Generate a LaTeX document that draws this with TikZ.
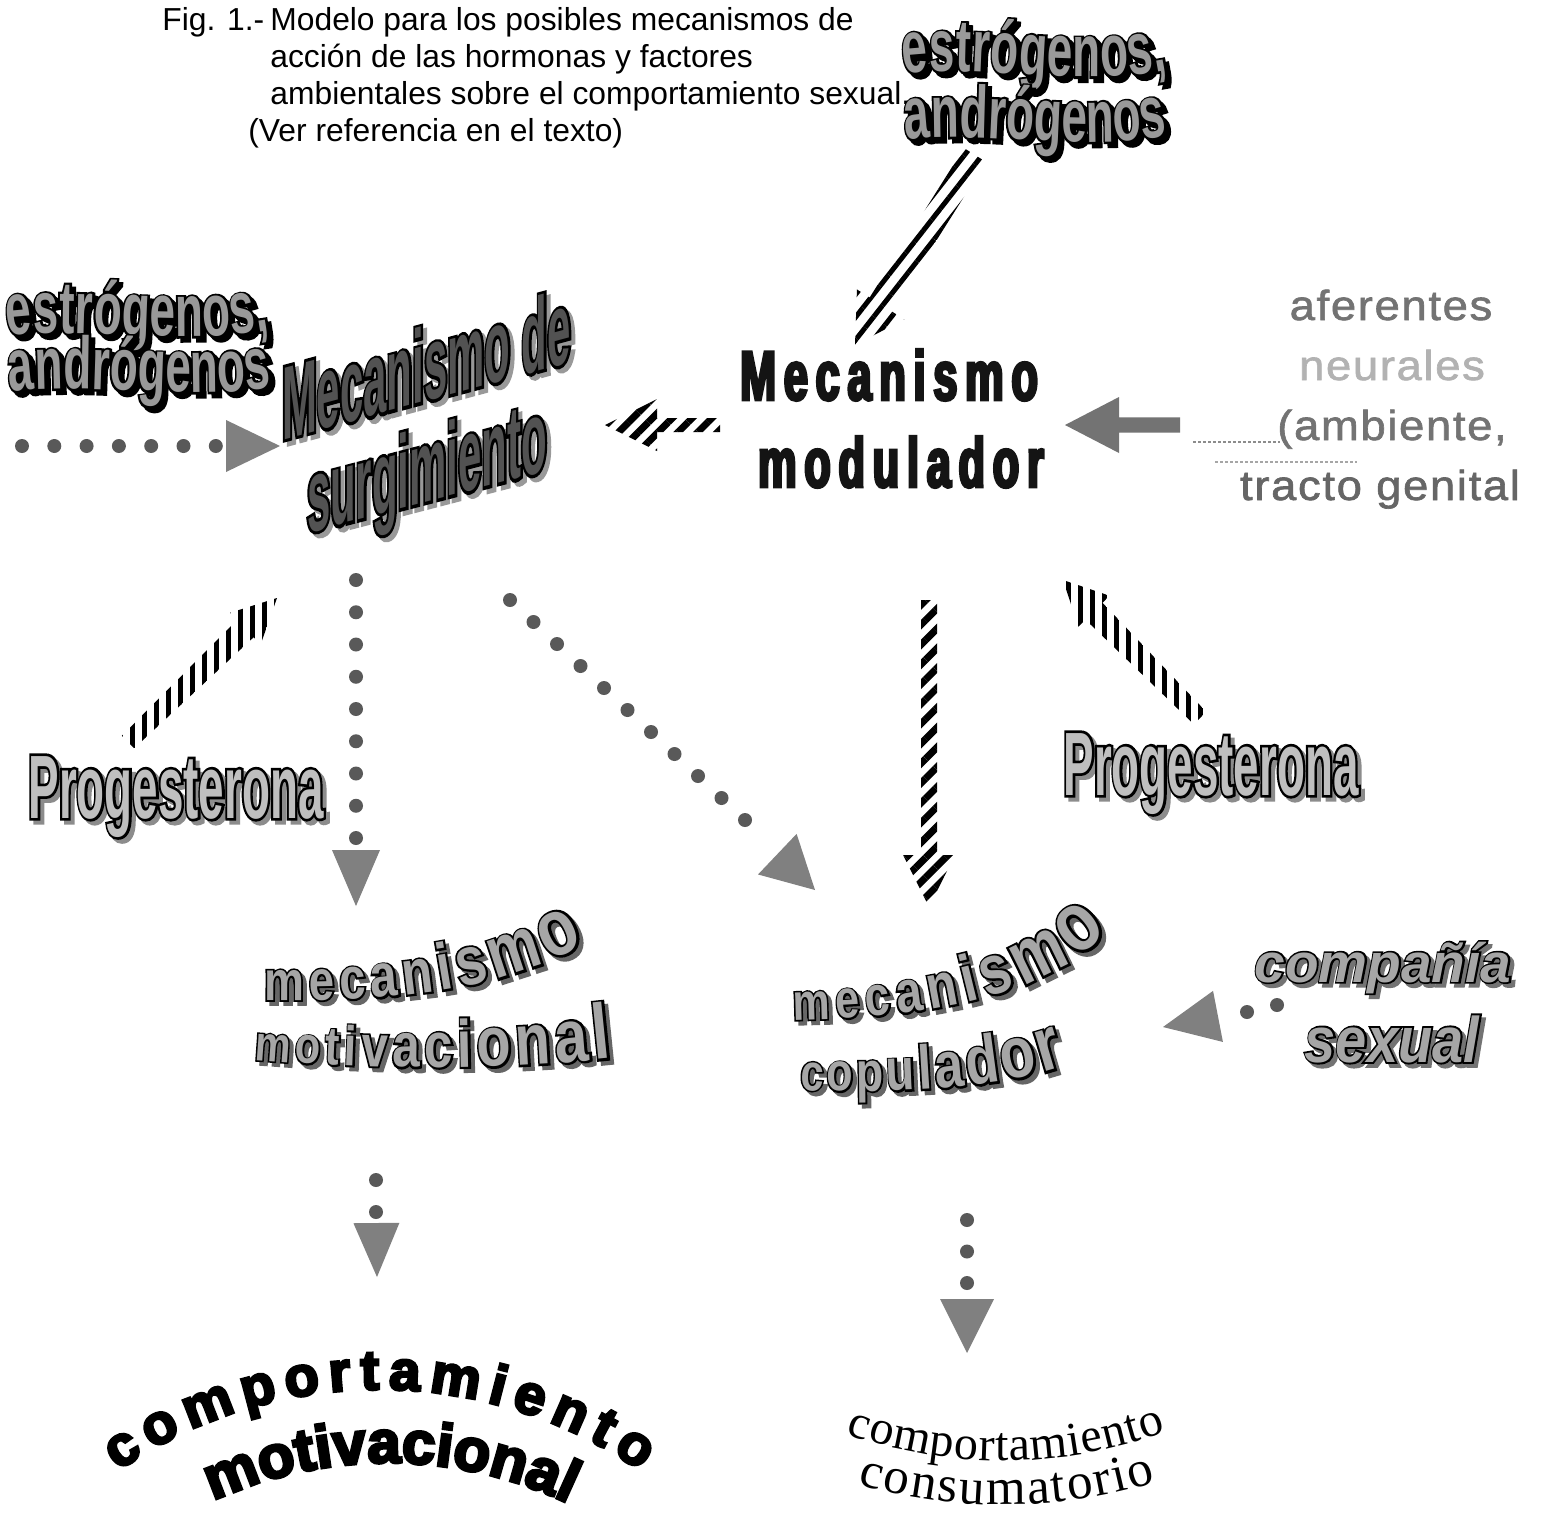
\documentclass[tikz,border=0pt]{standalone}
\usepackage{fontspec}
\setmainfont{Liberation Sans}
\usetikzlibrary{calc,patterns.meta,decorations.text}

% faces for the display lettering: a fill face and a stroked (outline) face
\newfontfamily\condfill[FakeStretch=0.62]{Liberation Sans Bold}
\newfontfamily\condline[FakeStretch=0.62,FakeBold=6]{Liberation Sans Bold}
\newfontfamily\roundfill[FakeStretch=0.8]{Liberation Sans Bold}
\newfontfamily\roundline[FakeStretch=0.8,FakeBold=6]{Liberation Sans Bold}
\newfontfamily\italfill{Liberation Sans Bold Italic}
\newfontfamily\italline[FakeBold=6]{Liberation Sans Bold Italic}
\newfontfamily\modfont[FakeStretch=0.62,LetterSpace=11,FakeBold=4]{Liberation Sans Bold}
\newfontfamily\heavyfont[FakeBold=5]{Liberation Sans Bold}
\newfontfamily\afffont[FakeStretch=1.08,LetterSpace=4,FakeBold=1.5]{Liberation Sans}
\newfontfamily\bookfont{Liberation Serif}

% size switch used inside path lettering; the family is chosen per pass
\newcommand\wafam{\roundfill}
\newcommand\G[1]{\wafam\fontsize{#1}{#1}\selectfont}

% outlined lettering with a drop shadow, as a node
% #1 name, #2 position, #3 node options, #4 shadow options, #5 outline face, #6 fill face, #7 fill colour, #8 text
\newcommand\waNode[8]{%
  \node[shift={(4,4)},#3,#4] (#1-sh) at #2 {#5#8};
  \node[#3,text=black] (#1-ol) at #2 {#5#8};
  \node[#3,text=#7] (#1) at #2 {#6#8};
}
% outlined lettering with a drop shadow, fitted along a path
% #1 shadow colour, #2 outline family, #3 fill family, #4 fill colour, #5 text spec, #6 path
\newcommand\waPath[6]{%
  \renewcommand\wafam{#2}%
  \path[shift={(4,4)},decorate,decoration={text along path,text align=fit to path,text color=#1,text={#5}}] #6;
  \path[decorate,decoration={text along path,text align=fit to path,text color=black,text={#5}}] #6;
  \renewcommand\wafam{#3}%
  \path[decorate,decoration={text along path,text align=fit to path,text color=#4,text={#5}}] #6;
}
% block arrow: #1 name, #2 style, #3 tail, #4 tip, #5 tail half width, #6 shaft half width, #7 head half width, #8 head length
\newcommand\blockarrow[8]{%
  \coordinate (#1-b) at ($(#4)!#8!(#3)$);
  \path[#2] (#4) -- ($(#1-b)!#7!90:(#4)$) -- ($(#1-b)!#6!90:(#4)$) -- ($(#3)!#5!90:(#4)$)
    -- ($(#3)!#5!-90:(#4)$) -- ($(#1-b)!#6!-90:(#4)$) -- ($(#1-b)!#7!-90:(#4)$) -- cycle;
}
% triangular head: #1 name, #2 point behind, #3 tip, #4 half width, #5 length
\newcommand\trihead[5]{%
  \coordinate (#1-b) at ($(#3)!#5!(#2)$);
  \fill[headgray] (#3) -- ($(#1-b)!#4!90:(#3)$) -- ($(#1-b)!#4!-90:(#3)$) -- cycle;
}

\begin{document}
\begin{tikzpicture}[x=0.5pt,y=-0.5pt,
  wa/.style={inner sep=0pt,outer sep=0pt},
  captext/.style={inner sep=0pt,anchor=base west,font=\fontsize{15.9}{19}\selectfont},
  headgray/.style={fill=black!50},
  dotgray/.style={fill=black!65},
  stripeslant/.style={pattern={Lines[angle=45,distance=7pt,line width=3.5pt]}},
  stripesteep/.style={pattern={Lines[angle=52,distance=7pt,line width=2.5pt]}},
  stripevert/.style={pattern={Lines[angle=90,distance=6pt,line width=2.5pt]}}]

\fill[white] (0,0) rectangle (1542,1526);
\path[use as bounding box] (0,0) rectangle (1542,1526);

% caption
\node[captext] (fig) at (162,30) {Fig. 1.-};
\node[captext] (cap1) at (270,30) {Modelo para los posibles mecanismos de};
\node[captext] (cap2) at (270,67) {acción de las hormonas y factores};
\node[captext] (cap3) at (270,104) {ambientales sobre el comportamiento sexual.};
\node[captext] (cap4) at (248,141) {(Ver referencia en el texto)};

% hormones, upper right and left
\waPath{black}{\condline}{\condfill}{black!40}{|\G{37}|estrógenos,}{(904,74) .. controls (980,64) and (1080,88) .. (1168,70)}
\waPath{black}{\condline}{\condfill}{black!40}{|\G{37}|andrógenos}{(906,140) .. controls (980,130) and (1080,152) .. (1168,136)}
\waPath{black}{\condline}{\condfill}{black!40}{|\G{37}|estrógenos,}{(8,336) .. controls (80,326) and (180,346) .. (270,330)}
\waPath{black}{\condline}{\condfill}{black!40}{|\G{37}|andrógenos}{(10,392) .. controls (80,382) and (180,400) .. (268,388)}

% Mecanismo de surgimiento
\waNode{surg1}{(282,440)}{wa,anchor=base west,yslant=0.27,xscale=0.65}{text=black!40}{\condline\fontsize{52}{52}\selectfont}{\condfill\fontsize{52}{52}\selectfont}{black!68}{Mecanismo de}
\waNode{surg2}{(307,533)}{wa,anchor=base west,yslant=0.26,xscale=0.65}{text=black!40}{\condline\fontsize{52}{52}\selectfont}{\condfill\fontsize{52}{52}\selectfont}{black!68}{surgimiento}

% Mecanismo modulador
\node[wa,anchor=base west,text=black!92,font=\modfont\fontsize{35}{35}\selectfont] (mod1) at (740,400) {Mecanismo};
\node[wa,anchor=base west,text=black!92,font=\modfont\fontsize{35}{35}\selectfont] (mod2) at (758,487) {modulador};

% aferentes neurales
\node[wa,anchor=base,text=black!55,font=\afffont\fontsize{21}{21}\selectfont] (af1) at (1391,320) {aferentes};
\node[wa,anchor=base,text=black!30,font=\afffont\fontsize{21}{21}\selectfont] (af2) at (1392,380) {neurales};
\node[wa,anchor=base,text=black!55,font=\afffont\fontsize{21}{21}\selectfont] (af3) at (1392,440) {(ambiente,};
\node[wa,anchor=base,text=black!60,font=\afffont\fontsize{21}{21}\selectfont] (af4) at (1380,500) {tracto genital};
\draw[black!45,line width=1,dash pattern=on 1.5pt off 1pt] (1193,442) -- (1280,442);
\draw[black!35,line width=1,dash pattern=on 1.5pt off 1pt] (1215,462) -- (1357,462);

% Progesterona
\waNode{progL}{(176,818)}{wa,anchor=base,xscale=0.82}{text=black!45}{\condline\fontsize{45}{45}\selectfont}{\condfill\fontsize{45}{45}\selectfont}{black!25}{Progesterona}
\waNode{progR}{(1211,795)}{wa,anchor=base,xscale=0.82}{text=black!45}{\condline\fontsize{45}{45}\selectfont}{\condfill\fontsize{45}{45}\selectfont}{black!25}{Progesterona}

% mecanismo motivacional / copulador, lettering growing towards the right
\waPath{black!60}{\roundline}{\roundfill}{black!35}%
  {|\G{28}|m|\G{28.5}|e|\G{29.5}|c|\G{30.5}|a|\G{31.5}|n|\G{33}|i|\G{34.5}|s|\G{36.5}|m|\G{40}|o}%
  {(264,1000) .. controls (400,1002) and (500,990) .. (585,944)}
\waPath{black!60}{\roundline}{\roundfill}{black!35}%
  {|\G{25}|m|\G{26}|o|\G{27}|t|\G{28}|i|\G{29.5}|v|\G{31}|a|\G{32}|c|\G{33.5}|i|\G{35}|o|\G{36}|n|\G{37.5}|a|\G{39}|l}%
  {(254,1060) .. controls (380,1070) and (500,1070) .. (612,1058)}
\waPath{black!60}{\roundline}{\roundfill}{black!35}%
  {|\G{26}|m|\G{27}|e|\G{28}|c|\G{29.5}|a|\G{31}|n|\G{33}|i|\G{35}|s|\G{38}|m|\G{42}|o}%
  {(793,1020) .. controls (920,1018) and (1040,1000) .. (1108,932)}
\waPath{black!60}{\roundline}{\roundfill}{black!35}%
  {|\G{26}|c|\G{27}|o|\G{28}|p|\G{29.5}|u|\G{31}|l|\G{32.5}|a|\G{34}|d|\G{36}|o|\G{38}|r}%
  {(800,1090) .. controls (900,1094) and (1000,1088) .. (1065,1066)}

% compañía sexual
\waNode{comp1}{(1383,982)}{wa,anchor=base}{text=black!55}{\italline\fontsize{27.5}{27.5}\selectfont}{\italfill\fontsize{27.5}{27.5}\selectfont}{black!35}{compañía}
\waNode{comp2}{(1392,1062)}{wa,anchor=base,yscale=1.15}{text=black!55}{\italline\fontsize{28}{28}\selectfont}{\italfill\fontsize{28}{28}\selectfont}{black!35}{sexual}

% behaviours
\path[decorate,decoration={text along path,text align=fit to path,text={|\heavyfont\fontsize{28}{28}\selectfont|comportamiento}}]
  (118,1471) arc[start angle=235.3,end angle=304.7,radius=459];
\path[decorate,decoration={text along path,text align=fit to path,text={|\heavyfont\fontsize{30}{30}\selectfont|motivacional}}]
  (213,1501) arc[start angle=245.3,end angle=294.7,radius=419];
\path[decorate,decoration={text along path,text align=fit to path,text={|\bookfont\fontsize{24}{24}\selectfont|comportamiento}}]
  (846,1434) .. controls (950,1470) and (1060,1470) .. (1166,1432);
\path[decorate,decoration={text along path,text align=fit to path,text={|\bookfont\fontsize{25.5}{25.5}\selectfont|consumatorio}}]
  (858,1484) .. controls (950,1512) and (1060,1512) .. (1156,1482);

% connector end points
\coordinate (hTR) at (975,155);  \coordinate (modTop) at (855,345);
\coordinate (modL) at (720,425); \coordinate (surgR) at (605,425);
\coordinate (afL) at (1180,425); \coordinate (modR) at (1065,425);
\coordinate (modB) at (929,600); \coordinate (copT) at (929,907);
\coordinate (progLT) at (128,742); \coordinate (surgBL) at (277,598);
\coordinate (progRT) at (1200,718); \coordinate (modBR) at (1063,580);

% striped and grey block arrows
\blockarrow{a1}{stripesteep}{hTR}{modTop}{6.5pt}{6.5pt}{14pt}{24pt}
\blockarrow{a2}{stripeslant}{modL}{surgR}{3.5pt}{3.5pt}{13pt}{26pt}
\blockarrow{a3}{stripeslant}{modB}{copT}{4pt}{4pt}{13pt}{26pt}
\blockarrow{a4}{stripevert}{progLT}{surgBL}{4.4pt}{6pt}{11pt}{22pt}
\blockarrow{a5}{stripevert}{progRT}{modBR}{4.4pt}{6pt}{11pt}{22pt}
\blockarrow{a6}{fill=black!55}{afL}{modR}{3.8pt}{3.8pt}{14pt}{27pt}

% dotted arrows
\coordinate (hL) at (22,446); \coordinate (surgIn) at (280,446);
\foreach \k in {0,...,6} \fill[dotgray] ($(hL)+(32.3*\k,0)$) circle (7);
\trihead{h1}{hL}{surgIn}{13pt}{27pt}

\coordinate (surgB) at (356,580); \coordinate (motT) at (356,906);
\foreach \k in {0,...,8} \fill[dotgray] ($(surgB)+(0,32.25*\k)$) circle (7);
\trihead{h2}{surgB}{motT}{12pt}{28pt}

\coordinate (surgBR) at (510,600); \coordinate (copTL) at (815,890);
\foreach \k in {0,...,10} \fill[dotgray] ($(surgBR)+(23.5*\k,22*\k)$) circle (7);
\trihead{h3}{surgBR}{copTL}{14pt}{26pt}

\coordinate (motB) at (376,1180); \coordinate (cmT) at (377,1277);
\foreach \k in {0,1} \fill[dotgray] ($(motB)+(0,32*\k)$) circle (7);
\trihead{h4}{motB}{cmT}{11.5pt}{27pt}

\coordinate (copB) at (967,1220); \coordinate (ccT) at (967,1353);
\foreach \k in {0,1,2} \fill[dotgray] ($(copB)+(0,31.5*\k)$) circle (7);
\trihead{h5}{copB}{ccT}{13.5pt}{27pt}

\coordinate (compL) at (1277,1005); \coordinate (copR) at (1163,1027);
\fill[dotgray] (compL) circle (7);
\fill[dotgray] (1247,1012) circle (7);
\trihead{h6}{compL}{copR}{13pt}{28pt}

\end{tikzpicture}
\end{document}
